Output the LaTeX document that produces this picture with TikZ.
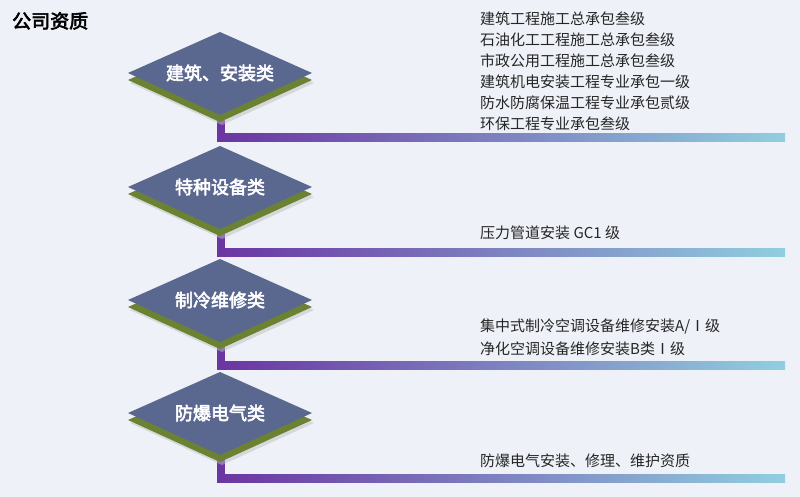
\documentclass[tikz,border=0pt]{standalone}
\usepackage{fontspec}
\newfontfamily\cjk{Noto Sans CJK SC}
\newfontfamily\cjkb[FakeBold=3]{Noto Sans CJK SC}
\definecolor{bg}{HTML}{EEF1F7}
\definecolor{slate}{HTML}{5A6890}
\definecolor{olivegr}{HTML}{6A8232}
\definecolor{barl}{HTML}{6B35A2}
\definecolor{barr}{HTML}{90CFDF}
\begin{document}
\begin{tikzpicture}[x=1pt,y=-1pt,
  lbl/.style={text=white,font=\cjkb\fontsize{18}{20}\selectfont},
  item/.style={anchor=west,inner sep=0pt,font=\cjk\fontsize{15}{17}\selectfont,text=black!85},
  bar/.style={left color=barl,right color=barr,draw=none}]
\fill[bg] (0,0) rectangle (800,497);
\useasboundingbox (0,0) rectangle (800,497);
\node[anchor=north west,inner sep=0pt,font=\cjkb\fontsize{19}{21}\selectfont] (title) at (12,12) {公司资质};
\foreach \cy/\t/\n in {73/建筑、安装类/a,187/特种设备类/b,300/制冷维修类/c,413/防爆电气类/d}{
  \pgfmathsetmacro\by{\cy+65}
  \fill[barl] (217,\cy+45) rectangle (225,\by+4);
  \shade[bar] (217,\by-4) rectangle (785,\by+4);
  \fill[black!25,opacity=0.5] (130,\cy+10) -- (222,\cy-30) -- (314,\cy+10) -- (222,\cy+52) -- cycle;
  \fill[olivegr] (128,\cy+7) -- (220,\cy-34) -- (312,\cy+7) -- (220,\cy+49) -- cycle;
  \fill[slate] (128,\cy) -- (220,\cy-41) -- (312,\cy) -- (220,\cy+42) -- cycle;
  \node[lbl] (\n) at (220,\cy) {\t};
}
\foreach \y/\s [count=\i] in {19/建筑工程施工总承包叁级,40/石油化工工程施工总承包叁级,61/市政公用工程施工总承包叁级,82/建筑机电安装工程专业承包一级,103/防水防腐保温工程专业承包贰级,124/环保工程专业承包叁级,233/压力管道安装 GC1 级,326/{集中式制冷空调设备维修安装A/Ⅰ级},349/净化空调设备维修安装B类Ⅰ级,461/防爆电气安装、修理、维护资质}
  \node[item] (t\i) at (480,\y) {\s};
\end{tikzpicture}
\end{document}
